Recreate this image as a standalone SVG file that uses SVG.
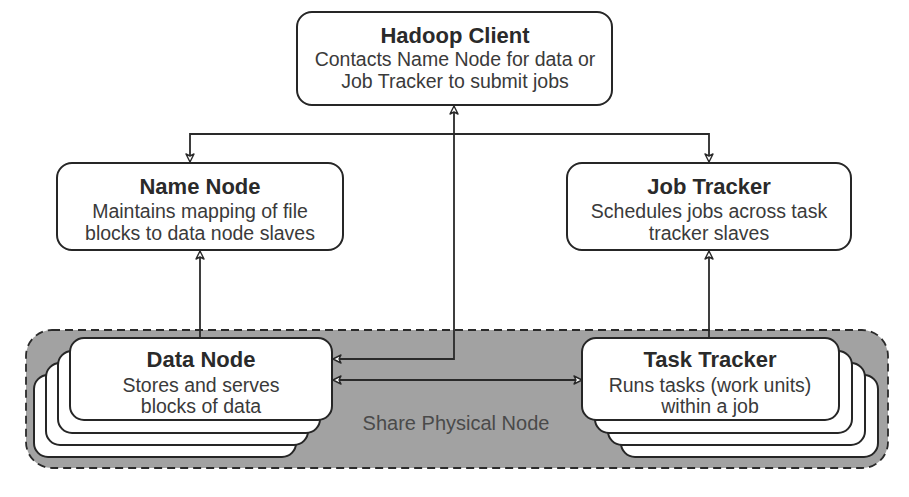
<svg xmlns="http://www.w3.org/2000/svg" width="909" height="497" viewBox="0 0 909 497">
<style>
.box{fill:#fff;stroke:#262626;stroke-width:2}
.title{font-family:"Liberation Sans",Arial,sans-serif;font-weight:bold;font-size:22px;fill:#2a2a2a;text-anchor:middle}
.desc{font-family:"Liberation Sans",Arial,sans-serif;font-size:19.5px;fill:#3a3a3a;text-anchor:middle}
.conn{fill:none;stroke:#2a2a2a;stroke-width:1.8}
.region{fill:#a2a2a2;stroke:#2a2a2a;stroke-width:1.8;stroke-dasharray:8 5}
.label{font-family:"Liberation Sans",Arial,sans-serif;font-size:20px;fill:#4a4a4a;text-anchor:middle}
</style>
<defs>
<marker id="arr" viewBox="0 0 10 10" refX="9" refY="5" markerWidth="10" markerHeight="10" markerUnits="userSpaceOnUse" orient="auto-start-reverse">
<path d="M1,1 L9,5 L1,9 L3,5 z" fill="#fff" stroke="#2a2a2a" stroke-width="1.4" stroke-linejoin="round"/>
</marker>
</defs>
<rect width="909" height="497" fill="#fff"/>

<g id="physical-node">
<rect class="region" x="26" y="330" width="862" height="138" rx="26" ry="26"/>
<text class="label" x="456" y="430">Share Physical Node</text>
</g>

<g id="connectors">
<path class="conn" d="M190,162 V134 H709 V162" marker-start="url(#arr)" marker-end="url(#arr)"/>
<path class="conn" d="M454,106 V359 H333" marker-start="url(#arr)" marker-end="url(#arr)"/>
<path class="conn" d="M200,338 V251" marker-end="url(#arr)"/>
<path class="conn" d="M709,338 V251" marker-end="url(#arr)"/>
<path class="conn" d="M333,380 H582" marker-start="url(#arr)" marker-end="url(#arr)"/>
</g>

<g id="hadoop-client">
<rect class="box" x="297" y="12" width="315" height="93" rx="15"/>
<text class="title" x="455" y="43">Hadoop Client</text>
<text class="desc" x="455" y="66">Contacts Name Node for data or</text>
<text class="desc" x="455" y="88">Job Tracker to submit jobs</text>
</g>

<g id="name-node">
<rect class="box" x="57" y="163" width="286" height="87" rx="15"/>
<text class="title" x="200" y="194">Name Node</text>
<text class="desc" x="200" y="218">Maintains mapping of file</text>
<text class="desc" x="200" y="240">blocks to data node slaves</text>
</g>

<g id="job-tracker">
<rect class="box" x="567" y="163" width="284" height="87" rx="15"/>
<text class="title" x="709" y="194">Job Tracker</text>
<text class="desc" x="709" y="218">Schedules jobs across task</text>
<text class="desc" x="709" y="240">tracker slaves</text>
</g>

<g id="data-node">
<rect class="box" x="34" y="375" width="262" height="82" rx="14"/>
<rect class="box" x="46" y="363" width="262" height="82" rx="14"/>
<rect class="box" x="58" y="351" width="262" height="82" rx="14"/>
<rect class="box" x="70" y="338" width="262" height="82" rx="14"/>
<text class="title" x="201" y="367">Data Node</text>
<text class="desc" x="201" y="392">Stores and serves</text>
<text class="desc" x="201" y="413">blocks of data</text>
</g>

<g id="task-tracker">
<rect class="box" x="621" y="375" width="257" height="82" rx="14"/>
<rect class="box" x="608" y="363" width="257" height="82" rx="14"/>
<rect class="box" x="595" y="351" width="257" height="82" rx="14"/>
<rect class="box" x="582" y="338" width="257" height="82" rx="14"/>
<text class="title" x="710" y="367">Task Tracker</text>
<text class="desc" x="710" y="392">Runs tasks (work units)</text>
<text class="desc" x="710" y="413">within a job</text>
</g>
</svg>
